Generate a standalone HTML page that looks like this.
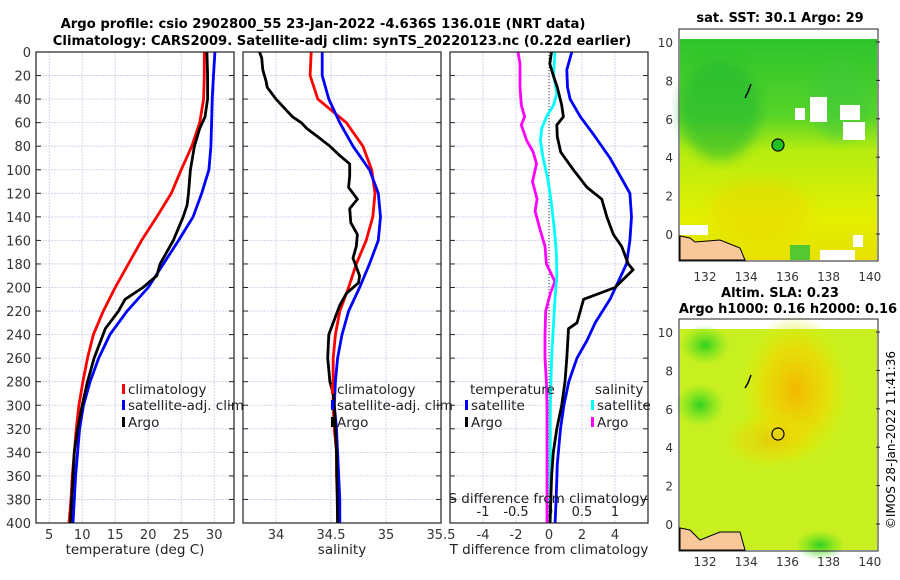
<!DOCTYPE html>
<html><head><meta charset="utf-8"><style>
body{margin:0;background:#fff}
svg{display:block;font-family:"DejaVu Sans","Liberation Sans",sans-serif}
</style></head><body>
<svg id="chart" width="900" height="580" viewBox="0 0 900 580">
<defs>
<linearGradient id="sstg" x1="0" y1="0" x2="0" y2="1">
<stop offset="0" stop-color="#2cc42c"/><stop offset="0.35" stop-color="#58d428"/><stop offset="0.5" stop-color="#b4ec10"/><stop offset="0.8" stop-color="#e2f000"/><stop offset="1" stop-color="#e8e000"/></linearGradient>
<radialGradient id="slao" cx="0.5" cy="0.5" r="0.5"><stop offset="0" stop-color="#f2b800"/><stop offset="0.6" stop-color="#f0d800" stop-opacity="0.7"/><stop offset="1" stop-color="#d8f000" stop-opacity="0"/></radialGradient>
<radialGradient id="slag" cx="0.5" cy="0.5" r="0.5"><stop offset="0" stop-color="#30d020"/><stop offset="1" stop-color="#60e020" stop-opacity="0"/></radialGradient>
<filter id="bl"><feGaussianBlur stdDeviation="6"/></filter>
</defs>
<g id="titles" font-weight="bold" font-size="13.2" text-anchor="middle">
<text x="323" y="28">Argo profile: csio 2902800_55 23-Jan-2022 -4.636S 136.01E (NRT data)</text>
<text x="342" y="45">Climatology: CARS2009. Satellite-adj clim: synTS_20220123.nc (0.22d earlier)</text>
</g>
<g id="panels"></g>
<g id="maps">
<text x="780" y="22" font-weight="bold" font-size="13" text-anchor="middle">sat. SST: 30.1 Argo: 29</text>
<text x="780" y="297" font-weight="bold" font-size="13" text-anchor="middle">Altim. SLA: 0.23</text>
<text x="788" y="313" font-weight="bold" font-size="13" text-anchor="middle">Argo h1000: 0.16 h2000: 0.16</text>
<g>
<rect x="679" y="29" width="199" height="232" fill="#fff"/>
<rect x="680" y="39" width="197" height="221" fill="url(#sstg)"/>
<ellipse cx="720" cy="110" rx="40" ry="50" fill="#20b830" opacity="0.6" filter="url(#bl)"/>
<ellipse cx="840" cy="100" rx="30" ry="40" fill="#40c840" opacity="0.5" filter="url(#bl)"/>
<ellipse cx="760" cy="210" rx="50" ry="30" fill="#f0d000" opacity="0.4" filter="url(#bl)"/>
<rect x="810" y="97" width="17" height="25" fill="#fff"/><rect x="840" y="105" width="20" height="15" fill="#fff"/>
<rect x="843" y="122" width="22" height="18" fill="#fff"/><rect x="855" y="128" width="8" height="8" fill="#fff"/>
<rect x="795" y="108" width="10" height="12" fill="#fff"/>
<rect x="680" y="225" width="28" height="10" fill="#fff"/>
<rect x="820" y="250" width="35" height="10" fill="#fff"/><rect x="853" y="235" width="10" height="12" fill="#fff"/>
<rect x="790" y="245" width="20" height="15" fill="#30c040" opacity="0.8"/>
<path d="M680 236 L690 238 L695 242 L720 240 L740 248 L745 260 L680 260Z" fill="#f9c89a" stroke="#000" stroke-width="1"/>
<circle cx="778" cy="145" r="6" fill="#20c020" stroke="#000" stroke-width="1.2"/>
<path d="M751 84 L748 92 L745 98" stroke="#000" stroke-width="1.5" fill="none"/>
<rect x="679" y="29" width="199" height="232" fill="none" stroke="#222"/>
</g>
<g>
<rect x="679" y="319" width="199" height="232" fill="#fff"/>
<rect x="680" y="329" width="197" height="221" fill="#c8f020"/>
<ellipse cx="705" cy="345" rx="25" ry="20" fill="url(#slag)"/>
<ellipse cx="700" cy="405" rx="25" ry="22" fill="url(#slag)"/>
<ellipse cx="820" cy="545" rx="25" ry="15" fill="url(#slag)"/>
<ellipse cx="795" cy="390" rx="55" ry="75" fill="url(#slao)"/>
<ellipse cx="770" cy="440" rx="50" ry="30" fill="url(#slao)" opacity="0.6"/>
<path d="M680 528 L690 530 L700 540 L720 532 L740 532 L745 550 L680 550Z" fill="#f9c89a" stroke="#000" stroke-width="1"/>
<circle cx="778" cy="434" r="6" fill="none" stroke="#000" stroke-width="1.2"/>
<path d="M751 375 L748 383 L745 388" stroke="#000" stroke-width="1.5" fill="none"/>
<rect x="679" y="319" width="199" height="232" fill="none" stroke="#222"/>
</g>
<g id="maplabels" font-size="12" fill="#333"></g>
<text transform="translate(895,440) rotate(-90)" font-size="12" text-anchor="middle">©IMOS 28-Jan-2022 11:41:36</text>
</g>
</svg>
<script>
// ---- data ----
const depthStd = [0,20,40,60,80,100,120,140,160,180,200,220,240,260,280,300,320,340,360,380,400];
const tempClim = [28.5,28.5,28.4,27.8,26.6,25.0,23.5,21.3,19.0,17.0,15.0,13.2,11.7,10.8,10.1,9.5,9.1,8.8,8.5,8.3,8.0];
const tempSat  = [30.1,29.9,29.7,29.6,29.5,29.2,28.1,26.8,24.6,22.3,20.0,16.8,14.2,12.5,11.2,10.2,9.6,9.3,9.0,8.8,8.6];
const depthArgoT = [0,20,40,55,65,80,100,120,130,140,160,180,190,200,210,220,235,260,280,300,320,340,360,380,400];
const tempArgo = [28.9,29.0,29.0,28.6,27.8,27.0,26.4,26.1,25.9,25.3,23.8,21.8,21.3,19.2,16.5,15.5,13.5,11.8,10.8,10.0,9.3,8.8,8.6,8.4,8.2];
const salClim = [34.32,34.31,34.38,34.64,34.79,34.87,34.90,34.88,34.82,34.73,34.66,34.58,34.54,34.52,34.52,34.52,34.53,34.55,34.55,34.56,34.56];
const salSat  = [34.42,34.42,34.48,34.58,34.70,34.85,34.93,34.95,34.93,34.85,34.76,34.66,34.60,34.56,34.54,34.53,34.55,34.56,34.57,34.58,34.58];
const depthArgoS = [0,5,15,25,30,40,50,55,60,65,72,80,88,95,105,115,125,133,145,155,165,175,190,196,205,215,230,240,260,280,290,300,340,400];
const salArgo = [33.85,33.87,33.88,33.91,33.92,34.0,34.10,34.15,34.23,34.28,34.38,34.49,34.58,34.67,34.67,34.66,34.74,34.67,34.68,34.74,34.73,34.70,34.76,34.75,34.64,34.58,34.52,34.48,34.47,34.49,34.52,34.53,34.55,34.56];
const depthD1 = [0,15,30,40,55,70,90,110,120,140,160,180,195,210,230,245,260,280,300,320,350,380,400];
const tdiffSat = [1.38,1.08,1.12,1.28,1.9,2.7,3.7,4.5,4.9,5.0,4.9,4.7,4.2,3.7,2.8,2.3,1.7,1.2,0.9,0.7,0.5,0.43,0.37];
const depthD2 = [0,10,20,30,45,55,62,72,85,100,115,125,140,155,165,180,185,200,210,230,235,260,280,300,320,340,360,400];
const tdiffArgo = [0.15,0.05,0.26,0.5,0.77,0.87,0.47,0.5,0.71,1.48,2.3,3.2,3.5,3.9,4.4,4.8,5.1,4.0,2.1,1.7,1.18,1.08,0.97,0.77,0.47,0.26,0.16,0.06];
const depthD3 = [0,20,35,45,55,65,75,90,110,130,150,170,190,210,230,260,300,350,400];
const sdiffSat = [0.09,0.07,0.12,0.07,-0.04,-0.11,-0.13,-0.09,-0.01,0.04,0.08,0.11,0.12,0.09,0.07,0.04,0.02,0.02,0.02];
const depthD4 = [0,10,30,45,55,62,75,85,95,110,125,135,150,165,180,195,205,220,240,260,280,300,400];
const sdiffArgo = [-0.47,-0.44,-0.44,-0.42,-0.37,-0.42,-0.34,-0.24,-0.19,-0.25,-0.18,-0.21,-0.14,-0.06,-0.04,0.09,0.02,-0.05,-0.06,-0.06,-0.04,-0.03,-0.03];
const depthTicks = [0,20,40,60,80,100,120,140,160,180,200,220,240,260,280,300,320,340,360,380,400];
const tTicks = [5,10,15,20,25,30];
const sTicks = [34,34.5,35,35.5];
const tdTicks = [-4,-2,0,2,4];
const sdTicks = [-1,-0.5,0,0.5,1];
const latTicks = [0,2,4,6,8,10];
const lonTicks = [132,134,136,138,140];

const NS='http://www.w3.org/2000/svg';
const TOP=52, BOT=523;
const yD = d => TOP + d*(BOT-TOP)/400;
function mk(tag, attrs, parent){const e=document.createElementNS(NS,tag);for(const k in attrs)e.setAttribute(k,attrs[k]);parent.appendChild(e);return e;}
const panelsG=document.getElementById('panels');

const panels=[
 {name:'temperature-panel',x0:36,x1:234,min:3,max:33},
 {name:'salinity-panel',x0:243,x1:441,min:33.7,max:35.5},
 {name:'difference-panel',x0:450,x1:648,min:-6,max:6}
];
function xf(p,v){return p.x0+(v-p.min)*(p.x1-p.x0)/(p.max-p.min);}
const sdP={x0:450,x1:648,min:-1.5,max:1.5};

panels.forEach((p,i)=>{
 const g=mk('g',{},panelsG);
 
 
 const ticks = i==0?tTicks:(i==1?sTicks:tdTicks);
 depthTicks.forEach(d=>{
  const l=mk('line',{x1:p.x0,x2:p.x1,y1:yD(d),y2:yD(d),stroke:'#c8cce8','stroke-width':0.8,'stroke-dasharray':'2,1'},g);
  
  
  mk('line',{x1:p.x0,x2:p.x0+5,y1:yD(d),y2:yD(d),stroke:'#222'},g);
  mk('line',{x1:p.x1-5,x2:p.x1,y1:yD(d),y2:yD(d),stroke:'#222'},g);
 });
 const vt = i==2? sdTicks.map(v=>xf(sdP,v)) : ticks.map(v=>xf(p,v));
 vt.forEach(x=>{
  const l=mk('line',{x1:x,x2:x,y1:TOP,y2:BOT,stroke:'#c8cce8','stroke-width':0.8,'stroke-dasharray':'2,1'},g);
  
  
 });
 ticks.forEach(v=>{
  const x=xf(p,v);
  const t=mk('text',{x:x,y:BOT+16,'font-size':13,'text-anchor':'middle',fill:'#333'},g);
  t.textContent=String(v);
  
  
 });
});
depthTicks.forEach(d=>{
 const t=mk('text',{x:31,y:yD(d)+5,'font-size':13,'text-anchor':'end',fill:'#333'},panelsG);
 t.textContent=String(d);
 
 
});
sdTicks.forEach(v=>{
 const t=mk('text',{x:xf(sdP,v),y:BOT-7,'font-size':13,'text-anchor':'middle',fill:'#222'},panelsG);
 t.textContent=String(v);
 
 
});
const zl=mk('line',{x1:xf(panels[2],0),x2:xf(panels[2],0),y1:TOP,y2:BOT,stroke:'#333','stroke-dasharray':'1,2'},panelsG);



function line(p, depths, vals, color, name){
 const pts=vals.map((v,k)=>xf(p,v).toFixed(1)+','+yD(depths[k]).toFixed(1)).join(' ');
 const pl=mk('polyline',{points:pts,fill:'none',stroke:color,'stroke-width':2.8,'stroke-linejoin':'round'},panelsG);
 
 
}
line(panels[0],depthStd,tempClim,'#ff0000','temp-climatology-line');
line(panels[0],depthStd,tempSat,'#0000ff','temp-satellite-line');
line(panels[0],depthArgoT,tempArgo,'#000','temp-argo-line');
line(panels[1],depthStd,salClim,'#ff0000','sal-climatology-line');
line(panels[1],depthStd,salSat,'#0000ff','sal-satellite-line');
line(panels[1],depthArgoS,salArgo,'#000','sal-argo-line');
line(sdP,depthD4,sdiffArgo,'#ff00ff','sdiff-argo-line');
line(sdP,depthD3,sdiffSat,'#00ffff','sdiff-satellite-line');
line(panels[2],depthD1,tdiffSat,'#0000ff','tdiff-satellite-line');
line(panels[2],depthD2,tdiffArgo,'#000','tdiff-argo-line');

panels.forEach(p=>{
 const r=mk('rect',{x:p.x0,y:TOP,width:p.x1-p.x0,height:BOT-TOP,fill:'none',stroke:'#222','stroke-width':1.2},panelsG);
 
 
});
function txt(x,y,s,name,anchor){
 const t=mk('text',{x:x,y:y,'font-size':13.5,'text-anchor':anchor||'start',fill:'#222'},panelsG);
 t.textContent=s;
 
 
}
function key(x,y,color,label,name){
 const r=mk('rect',{x:x,y:y-10,width:3,height:10,fill:color},panelsG);
 
 
 txt(x+6,y,label,name);
}
key(122,394,'#ff0000','climatology','legend-climatology');
key(122,410,'#0000ff','satellite-adj. clim','legend-satellite');
key(122,427,'#000','Argo','legend-argo');
key(331,394,'#ff0000','climatology','legend-sal-climatology');
key(331,410,'#0000ff','satellite-adj. clim','legend-sal-satellite');
key(331,427,'#000','Argo','legend-sal-argo');
txt(470,394,'temperature','legend-temperature-heading');
txt(595,394,'salinity','legend-salinity-heading');
key(465,410,'#0000ff','satellite','legend-tdiff-satellite');
key(465,427,'#000','Argo','legend-tdiff-argo');
key(591,410,'#00ffff','satellite','legend-sdiff-satellite');
key(591,427,'#ff00ff','Argo','legend-sdiff-argo');
txt(548,503,'S difference from climatology','sdiff-axis-title','middle');
txt(135,554,'temperature (deg C)','x-axis-title-temperature','middle');
txt(342,554,'salinity','x-axis-title-salinity','middle');
txt(549,554,'T difference from climatology','x-axis-title-tdiff','middle');

const ml=document.getElementById('maplabels');
const lonX=v=>705+(v-132)*20.6;
[[42,234],[332,524]].forEach(([y10,y0],m)=>{
 latTicks.forEach(v=>{
  const y=y0+(y10-y0)*v/10;
  const t=mk('text',{x:673,y:y+5,'text-anchor':'end'},ml);
  t.textContent=String(v);
  
  
  mk('line',{x1:876,x2:880,y1:y,y2:y,stroke:'#222'},ml);
 });
 lonTicks.forEach(v=>{
  const t=mk('text',{x:lonX(v),y:(m?566:281),'text-anchor':'middle'},ml);
  t.textContent=String(v);
  
  
 });
});
</script>
</body></html>
